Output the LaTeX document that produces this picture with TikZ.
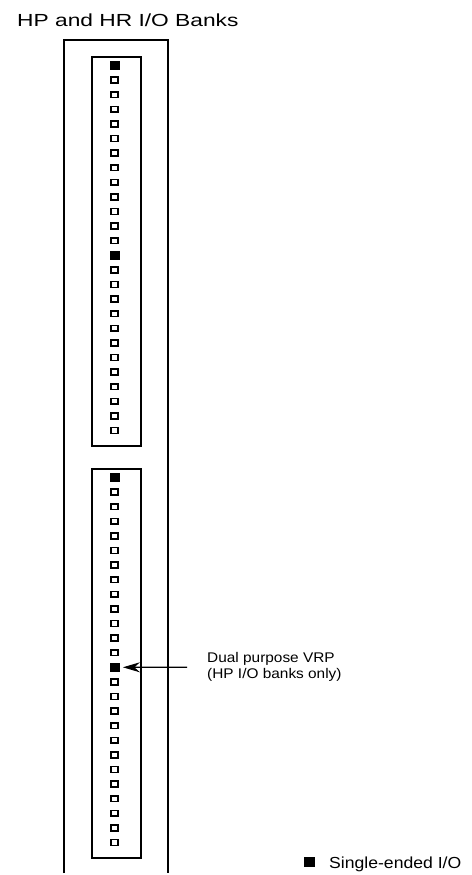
\documentclass[tikz,border=0pt]{standalone}
\usepackage{fontspec}
\setmainfont{Liberation Sans}
\newfontfamily\widefont[FakeStretch=1.3]{Liberation Sans}
\newfontfamily\notefont[FakeStretch=1.1]{Liberation Sans}
\usetikzlibrary{arrows.meta}
\tikzset{
    bankline/.style={draw=black, line width=1.6pt},
    iopad/.style={draw=black, line width=1.7pt, fill=white, minimum width=6.8pt, minimum height=5.8pt, inner sep=0pt},
    vrppad/.style={draw=black, line width=0.8pt, fill=black, minimum width=9pt, minimum height=7.5pt, inner sep=0pt},
}
\newcommand{\drawiobank}[2]{
    \draw [bankline] (92,#2) rectangle (141,#2+389);
    \foreach \i in {0,...,25} {
        \ifnum\i=0 \def\padstyle{vrppad}\else\ifnum\i=13 \def\padstyle{vrppad}\else\def\padstyle{iopad}\fi\fi
        \node [\padstyle] (#1-\i) at (114.5,#2+8.5+\i*14.6) {};
    }
}

\begin{document}
\begin{tikzpicture}[x=1pt, y=-1pt]
    \useasboundingbox (0,0) rectangle (471,875);
    \node [anchor=base west, inner sep=0pt, font=\widefont\fontsize{17.5}{21}\selectfont] (title) at (17,27) {HP and HR I/O Banks};
    \draw [bankline] (64,873) |- (168,40) -- (168,873);
    \drawiobank{high}{57};
    \drawiobank{low}{469};
    \node [anchor=west, inner sep=0pt, align=left, font=\notefont\fontsize{14}{16}\selectfont] (vrpnote) at (207,667.3) {Dual purpose VRP\\(HP I/O banks only)};
    \draw [-{Stealth[length=17pt, width=10pt]}, line width=1.2pt, shorten <=20pt, shorten >=3.5pt] (vrpnote.west) -- (low-13);
    % legend
    \node [fill=black, minimum width=11pt, minimum height=10pt, inner sep=0pt] (legendkey) at (309,862) {};
    \node [anchor=base west, inner sep=0pt, font=\notefont\fontsize{16}{19}\selectfont] (legendtext) at (329,868) {Single-ended I/O};
\end{tikzpicture}
\end{document}
